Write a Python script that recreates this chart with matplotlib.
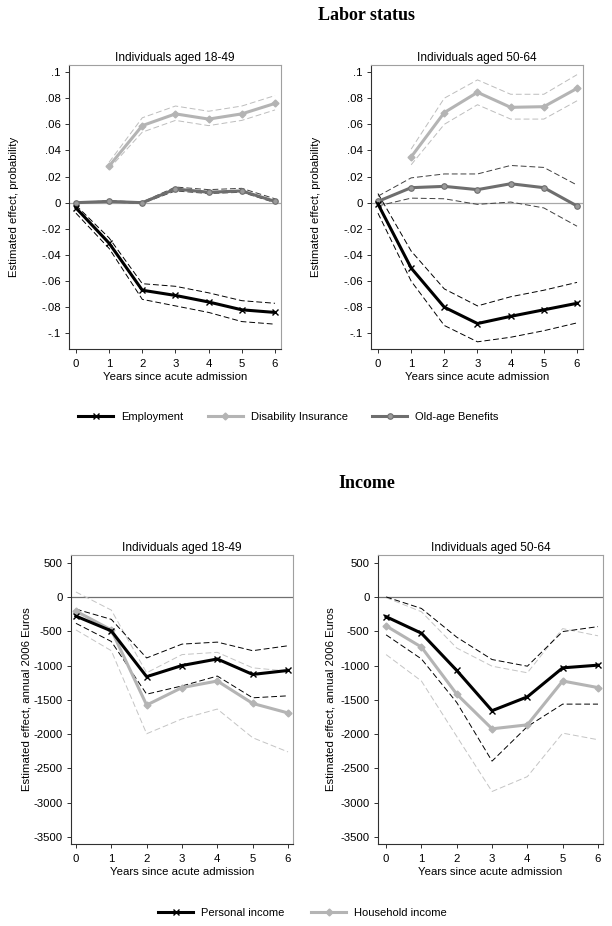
import numpy as np
import matplotlib
matplotlib.use("Agg")
import matplotlib.pyplot as plt
from matplotlib.lines import Line2D
from matplotlib.ticker import FuncFormatter

plt.rcParams['font.family'] = ['Liberation Sans', 'DejaVu Sans']
plt.rcParams['axes.unicode_minus'] = False

years = [0, 1, 2, 3, 4, 5, 6]
years_di = [1, 2, 3, 4, 5, 6]

# labor status, aged 18-49
emp_young = [-0.004, -0.031, -0.067, -0.071, -0.076, -0.082, -0.084]
emp_young_hi = [-0.002, -0.027, -0.062, -0.064, -0.069, -0.075, -0.077]
emp_young_lo = [-0.008, -0.035, -0.074, -0.079, -0.084, -0.091, -0.093]
di_young = [0.028, 0.059, 0.068, 0.064, 0.068, 0.076]
di_young_hi = [0.031, 0.065, 0.074, 0.070, 0.074, 0.082]
di_young_lo = [0.026, 0.054, 0.063, 0.059, 0.063, 0.071]
old_young = [0.0, 0.001, 0.0, 0.0105, 0.008, 0.009, 0.001]
old_young_hi = [0.0, 0.0015, 0.0005, 0.012, 0.010, 0.011, 0.003]
old_young_lo = [0.0, 0.0005, -0.0005, 0.009, 0.007, 0.008, 0.0]

# labor status, aged 50-64
emp_old = [-0.001, -0.050, -0.080, -0.0925, -0.087, -0.082, -0.077]
emp_old_hi = [0.007, -0.037, -0.066, -0.079, -0.072, -0.067, -0.061]
emp_old_lo = [-0.008, -0.060, -0.094, -0.1065, -0.103, -0.098, -0.092]
di_old = [0.035, 0.069, 0.0845, 0.073, 0.0735, 0.0875]
di_old_hi = [0.041, 0.080, 0.094, 0.083, 0.083, 0.098]
di_old_lo = [0.029, 0.060, 0.075, 0.064, 0.064, 0.078]
old_old = [0.001, 0.0115, 0.0125, 0.010, 0.0145, 0.0115, -0.0025]
old_old_hi = [0.005, 0.019, 0.022, 0.022, 0.0285, 0.027, 0.0135]
old_old_lo = [-0.0025, 0.0035, 0.003, -0.0013, 0.0005, -0.004, -0.018]

# income, aged 18-49
pers_young = [-280, -495, -1163, -1000, -905, -1130, -1072]
pers_young_hi = [-178, -327, -890, -688, -659, -784, -712]
pers_young_lo = [-385, -649, -1418, -1298, -1154, -1471, -1442]
hh_young = [-207, -481, -1577, -1322, -1226, -1553, -1692]
hh_young_hi = [72, -192, -1106, -841, -808, -1034, -1082]
hh_young_lo = [-481, -784, -1995, -1779, -1635, -2053, -2260]

# income, aged 50-64
pers_old = [-288, -529, -1072, -1659, -1457, -1034, -995]
pers_old_hi = [0, -168, -587, -913, -1010, -505, -433]
pers_old_lo = [-553, -904, -1539, -2394, -1890, -1563, -1563]
hh_old = [-423, -731, -1418, -1923, -1865, -1226, -1322]
hh_old_hi = [-10, -216, -745, -1010, -1106, -462, -567]
hh_old_lo = [-841, -1226, -2034, -2837, -2620, -1986, -2082]

prob_ticks = [0.1, 0.08, 0.06, 0.04, 0.02, 0, -0.02, -0.04, -0.06, -0.08, -0.1]
euro_ticks = [500, 0, -500, -1000, -1500, -2000, -2500, -3000, -3500]

BLACK = '#000000'
LIGHT = '#b4b4b4'
DARK = '#6e6e6e'
FS = 8.2


def stata_prob(v, pos):
    if abs(v) < 1e-9:
        return '0'
    s = ('%.2f' % v).rstrip('0')
    return s.replace('0.', '.')


def style_axes(ax):
    for side in ['top', 'right']:
        ax.spines[side].set_color('#a0a0a0')
    for side in ['left', 'bottom']:
        ax.spines[side].set_color('#303030')
    for s in ax.spines.values():
        s.set_linewidth(0.8)
    ax.tick_params(direction='out', length=3, width=0.7, labelsize=FS, color='#303030', pad=3)
    ax.tick_params(axis='x', pad=4.5)
    ax.set_xticks(years)
    ax.set_xlabel('Years since acute admission', fontsize=FS, labelpad=2)


fig = plt.figure(figsize=(6.12, 9.26), dpi=100)

ax1 = fig.add_axes([0.1127, 0.6231, 0.3464, 0.3067])
ax2 = fig.add_axes([0.6062, 0.6231, 0.3464, 0.3067])
ax3 = fig.add_axes([0.1160, 0.0886, 0.3627, 0.3121])
ax4 = fig.add_axes([0.6176, 0.0886, 0.3676, 0.3121])

labor = [
    (ax1, 'Individuals aged 18-49', emp_young, emp_young_hi, emp_young_lo,
     di_young, di_young_hi, di_young_lo, old_young, old_young_hi, old_young_lo),
    (ax2, 'Individuals aged 50-64', emp_old, emp_old_hi, emp_old_lo,
     di_old, di_old_hi, di_old_lo, old_old, old_old_hi, old_old_lo),
]
for ax, title, e, eh, el, d, dh, dl, o, oh, ol in labor:
    ax.axhline(0, color='#a8a8a8', lw=0.9, zorder=1)
    ax.plot(years, eh, color=BLACK, lw=0.7, ls=(0, (6, 3)))
    ax.plot(years, el, color=BLACK, lw=0.7, ls=(0, (6, 3)))
    ax.plot(years_di, dh, color='#bdbdbd', lw=0.7, ls=(0, (6, 3)))
    ax.plot(years_di, dl, color='#bdbdbd', lw=0.7, ls=(0, (6, 3)))
    ax.plot(years, oh, color='#404040', lw=0.7, ls=(0, (6, 3)))
    ax.plot(years, ol, color='#404040', lw=0.7, ls=(0, (6, 3)))
    ax.plot(years, e, color=BLACK, lw=2.2, marker='x', ms=4, mew=1.0, zorder=4)
    ax.plot(years_di, d, color=LIGHT, lw=2.2, marker='D', ms=3.5, zorder=3)
    ax.plot(years, o, color=DARK, lw=2.2, marker='o', ms=4, mfc='#9a9a9a', mec=DARK, mew=0.8, zorder=3)
    ax.set_xlim(-0.21, 6.18)
    ax.set_ylim(-0.112, 0.1054)
    ax.set_yticks(prob_ticks)
    ax.yaxis.set_major_formatter(FuncFormatter(stata_prob))
    ax.set_title(title, fontsize=8.6, pad=3)
    ax.set_ylabel('Estimated effect, probability', fontsize=FS)
    ax.yaxis.set_label_coords(-0.238, 0.5)
    style_axes(ax)

income = [
    (ax3, 'Individuals aged 18-49', pers_young, pers_young_hi, pers_young_lo,
     hh_young, hh_young_hi, hh_young_lo, -0.14, -0.178),
    (ax4, 'Individuals aged 50-64', pers_old, pers_old_hi, pers_old_lo,
     hh_old, hh_old_hi, hh_old_lo, -0.23, -0.189),
]
for ax, title, p, ph, pl, h, hh, hl, x0, lx in income:
    ax.axhline(0, color='#707070', lw=0.9, zorder=1)
    ax.plot(years, hh, color='#c4c4c4', lw=0.7, ls=(0, (6, 3)))
    ax.plot(years, hl, color='#c4c4c4', lw=0.7, ls=(0, (6, 3)))
    ax.plot(years, ph, color=BLACK, lw=0.7, ls=(0, (6, 3)))
    ax.plot(years, pl, color=BLACK, lw=0.7, ls=(0, (6, 3)))
    ax.plot(years, h, color=LIGHT, lw=2.2, marker='D', ms=3.5, zorder=3)
    ax.plot(years, p, color=BLACK, lw=2.2, marker='x', ms=4, mew=1.0, zorder=4)
    ax.set_xlim(x0, 6.14)
    ax.set_ylim(-3602, 612)
    ax.set_yticks(euro_ticks)
    ax.set_title(title, fontsize=8.6, pad=3)
    ax.set_ylabel('Estimated effect, annual 2006 Euros', fontsize=FS)
    ax.yaxis.set_label_coords(lx, 0.5)
    style_axes(ax)

# section titles
fig.text(366 / 612, 1 - 16 / 926, 'Labor status', family='Liberation Serif', weight='bold',
         fontsize=13, ha='center', va='center')
fig.text(367 / 612, 1 - 483 / 926, 'Income', family='Liberation Serif', weight='bold',
         fontsize=13, ha='center', va='center')

# legends
h_emp = Line2D([], [], color=BLACK, lw=2.2, marker='x', ms=4, mew=1.0)
h_di = Line2D([], [], color=LIGHT, lw=2.2, marker='D', ms=3.5)
h_old = Line2D([], [], color=DARK, lw=2.2, marker='o', ms=4, mfc='#9a9a9a', mec=DARK, mew=0.8)
fig.legend([h_emp, h_di, h_old], ['Employment', 'Disability Insurance', 'Old-age Benefits'],
           loc='center', bbox_to_anchor=(288.5 / 612, 1 - 417 / 926), ncol=3, frameon=False,
           fontsize=8, handlelength=3.15, columnspacing=2.2, handletextpad=0.72)

h_pers = Line2D([], [], color=BLACK, lw=2.2, marker='x', ms=4, mew=1.0)
h_hh = Line2D([], [], color=LIGHT, lw=2.2, marker='D', ms=3.5)
fig.legend([h_pers, h_hh], ['Personal income', 'Household income'],
           loc='center', bbox_to_anchor=(302.5 / 612, 1 - 913 / 926), ncol=2, frameon=False,
           fontsize=8, handlelength=3.15, columnspacing=2.4, handletextpad=0.72)

fig.savefig('out.png', dpi=100, facecolor='white')
